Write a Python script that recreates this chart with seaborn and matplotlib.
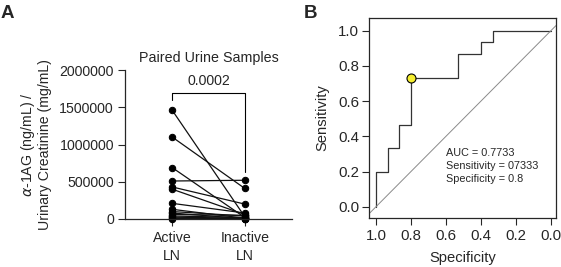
import numpy as np
import pandas as pd
import matplotlib
matplotlib.use("Agg")
import matplotlib.pyplot as plt
import seaborn as sns

# ---- Data: panel A (paired urine samples) ----
groups = ["Active\nLN", "Inactive\nLN"]
active_vals = [1460000, 1100000, 690000, 510000, 430000, 400000, 210000, 130000,
               100000, 80000, 60000, 40000, 25000, 15000, 5000]
inactive_vals = [30000, 410000, 20000, 520000, 200000, 60000, 80000, 10000,
                 40000, 5000, 50000, 20000, 10000, 3000, 2000]
p_value_text = "0.0002"
ya_ticks = [0, 500000, 1000000, 1500000, 2000000]

# ---- Data: panel B (ROC) ----
specificity = [1.0, 1.0, 0.9333, 0.9333, 0.8667, 0.8667, 0.8, 0.8, 0.5333, 0.5333,
               0.4, 0.4, 0.3333, 0.3333, 0.0]
sensitivity = [0.0, 0.2, 0.2, 0.3333, 0.3333, 0.4667, 0.4667, 0.7333, 0.7333, 0.8667,
               0.8667, 0.9333, 0.9333, 1.0, 1.0]
best_spec, best_sens = 0.8, 0.7333
roc_text = ["AUC = 0.7733", "Sensitivity = 07333", "Specificity = 0.8"]
xb_ticks = [1.0, 0.8, 0.6, 0.4, 0.2, 0.0]
yb_ticks = [0.0, 0.2, 0.4, 0.6, 0.8, 1.0]

sns.set_style("ticks")
plt.rcParams["font.family"] = ["Liberation Sans", "DejaVu Sans"]
plt.rcParams["mathtext.fontset"] = "dejavusans"

W, H = 561, 267
fig = plt.figure(figsize=(W / 100, H / 100), dpi=100)

def fax(l, t, r, b):
    return fig.add_axes([l / W, 1 - b / H, (r - l) / W, (b - t) / H])

# ---------- Panel A ----------
axA = fax(125, 70, 292, 219)
n = len(active_vals)
df = pd.DataFrame({
    "pair": list(range(n)) * 2,
    "x": [0] * n + [1] * n,
    "value": active_vals + inactive_vals,
})
sns.lineplot(data=df, x="x", y="value", units="pair", estimator=None,
             color="#111111", lw=0.9, marker="o", markersize=4.6,
             markeredgecolor="black", markerfacecolor="black", ax=axA,
             legend=False)
for ln in axA.lines:
    ln.set_clip_on(False)
axA.set_xlim(-0.65, 1.65)
axA.set_ylim(0, 2000000)
axA.set_yticks(ya_ticks)
axA.set_yticklabels([str(v) for v in ya_ticks])
axA.set_xticks([0, 1])
axA.set_xticklabels(groups, linespacing=1.35)
axA.set_xlabel("")
axA.set_ylabel("$\\alpha$-1AG (ng/mL) /\nUrinary Creatinine (mg/mL)",
               fontsize=10.2, linespacing=1.1, labelpad=5)
axA.tick_params(axis="both", labelsize=10.2, length=5, width=0.8, pad=3)
axA.tick_params(axis="x", pad=4)
for s in ["top", "right"]:
    axA.spines[s].set_visible(False)
for s in ["left", "bottom"]:
    axA.spines[s].set_linewidth(0.9)
axA.set_title("Paired Urine Samples", fontsize=10.3, pad=6)
# significance bracket
axA.plot([0, 0, 1, 1], [1597000, 1687000, 1687000, 635000], color="black", lw=0.8)
axA.text(0.5, 1760000, p_value_text, ha="center", va="bottom", fontsize=10.2)

# ---------- Panel B ----------
axB = fax(369, 18, 556, 218)
sns.lineplot(x=specificity, y=sensitivity, sort=False, estimator=None,
             color="#333333", lw=0.9, ax=axB)
axB.axline((1, 0), (0, 1), color="#8a8a8a", lw=0.7)
axB.scatter([best_spec], [best_sens], s=42, color="#f5ee30",
            edgecolor="black", linewidth=0.8, zorder=5)
axB.set_xlim(1.04, -0.029)
axB.set_ylim(-0.064, 1.072)
axB.set_xticks(xb_ticks)
axB.set_xticklabels([f"{v:.1f}" for v in xb_ticks])
axB.set_yticks(yb_ticks)
axB.set_yticklabels([f"{v:.1f}" for v in yb_ticks])
axB.set_xlabel("Specificity", fontsize=10.6, labelpad=6)
axB.set_ylabel("Sensitivity", fontsize=10.6, labelpad=6)
axB.tick_params(axis="both", labelsize=10.8, length=5, width=0.8, pad=2)
axB.tick_params(axis="x", pad=3)
for s in axB.spines.values():
    s.set_linewidth(0.9)
    s.set_visible(True)
for i, t in enumerate(roc_text):
    axB.text(0.6, 0.307 - i * 0.075, t, fontsize=7.8, ha="left", va="center")

fig.text(1 / W, 1 - 14 / H, "A", fontsize=13.5, fontweight="bold", va="center")
fig.text(304 / W, 1 - 14 / H, "B", fontsize=13.5, fontweight="bold", va="center")

fig.savefig("out.png", dpi=100)
